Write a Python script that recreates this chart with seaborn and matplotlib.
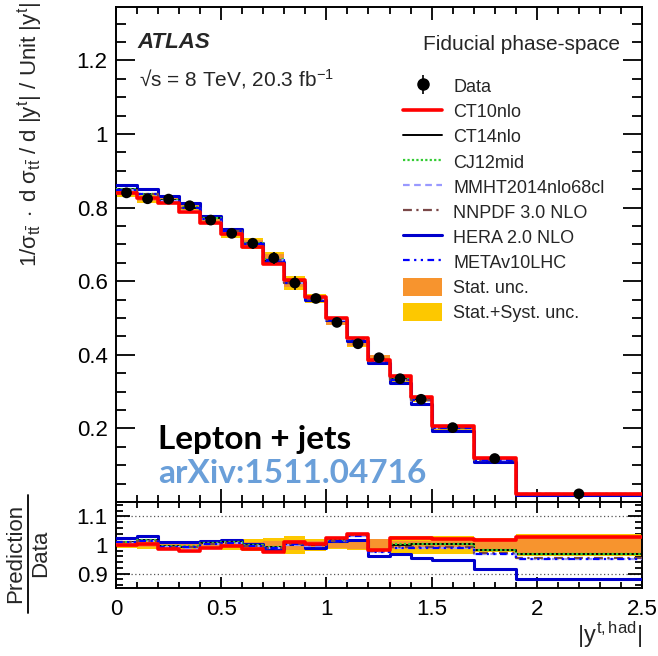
import numpy as np
import pandas as pd
import matplotlib
matplotlib.use("Agg")
import matplotlib.pyplot as plt
import seaborn as sns
from matplotlib.lines import Line2D
from matplotlib.patches import Patch
from matplotlib.ticker import MultipleLocator, FuncFormatter

# ---------------- data ----------------
edges = [0.0, 0.1, 0.2, 0.3, 0.4, 0.5, 0.6, 0.7, 0.8, 0.9, 1.0, 1.1, 1.2, 1.3, 1.4, 1.5, 1.7, 1.9, 2.5]
data = [0.840, 0.824, 0.823, 0.805, 0.766, 0.730, 0.703, 0.663, 0.595, 0.553,
        0.488, 0.430, 0.392, 0.335, 0.279, 0.202, 0.118, 0.022]
stat_unc = [0.006, 0.006, 0.006, 0.006, 0.007, 0.007, 0.012, 0.015, 0.017, 0.013,
            0.012, 0.015, 0.020, 0.013, 0.013, 0.015, 0.020, 0.032]
tot_unc = [0.012, 0.014, 0.012, 0.014, 0.014, 0.016, 0.022, 0.025, 0.030, 0.020,
           0.015, 0.018, 0.022, 0.030, 0.030, 0.030, 0.025, 0.037]

r_ct10 = [1.000, 1.002, 0.987, 0.979, 0.991, 0.996, 0.985, 0.976, 1.012, 1.005,
          1.025, 1.039, 0.981, 1.023, 1.023, 1.022, 1.017, 1.028]
r_ct14 = [1.012, 1.016, 0.996, 0.994, 1.006, 1.009, 0.999, 0.993, 1.004, 1.001,
          1.017, 1.035, 0.982, 1.000, 1.002, 1.004, 0.982, 0.968]
r_cj12 = [1.011, 1.016, 0.997, 0.995, 1.007, 1.010, 1.000, 0.994, 1.005, 1.002,
          1.018, 1.036, 0.983, 1.002, 1.004, 1.005, 0.981, 0.967]
r_mmht = [1.008, 1.013, 0.993, 0.991, 1.003, 1.006, 0.996, 0.990, 1.001, 0.998,
          1.014, 1.032, 0.975, 0.988, 0.988, 0.989, 0.970, 0.952]
r_nnpdf = [1.010, 1.015, 0.994, 0.992, 1.004, 1.007, 0.997, 0.991, 1.002, 0.999,
           1.015, 1.034, 0.978, 0.993, 0.993, 0.993, 0.973, 0.953]
r_hera = [1.024, 1.032, 1.010, 1.010, 1.014, 1.017, 1.002, 0.985, 1.005, 0.991,
          1.014, 1.017, 0.962, 0.967, 0.956, 0.949, 0.915, 0.880]
r_meta = [1.009, 1.014, 0.994, 0.992, 1.004, 1.007, 0.997, 0.991, 1.002, 0.999,
          1.015, 1.033, 0.976, 0.990, 0.990, 0.991, 0.969, 0.950]

x_ticks = [0, 0.5, 1, 1.5, 2, 2.5]
y_ticks = [0.2, 0.4, 0.6, 0.8, 1.0, 1.2]
r_ticks = [0.9, 1.0, 1.1]

# ---------------- style ----------------
sns.set_theme(style="ticks")
plt.rcParams['font.family'] = ['Liberation Sans', 'DejaVu Sans']
plt.rcParams['mathtext.fontset'] = 'custom'
plt.rcParams['mathtext.rm'] = 'Liberation Sans'
plt.rcParams['mathtext.it'] = 'Liberation Sans'
plt.rcParams['mathtext.bf'] = 'Liberation Sans:bold'
plt.rcParams['mathtext.sf'] = 'Liberation Sans'
plt.rcParams['axes.linewidth'] = 1.4

ORANGE = '#f7942e'
YELLOW = '#fdc800'

fig = plt.figure(figsize=(6.58, 6.56), dpi=100)
ax = fig.add_axes([0.1763, 0.2348, 0.7994, 0.7545])
rax = fig.add_axes([0.1763, 0.1037, 0.7994, 0.1311])

edges_a = np.array(edges)
centers = 0.5 * (edges_a[:-1] + edges_a[1:])
data_a = np.array(data)


def ext(v):
    v = list(v)
    return v + [v[-1]]


models = [
    ("HERA 2.0 NLO", r_hera, dict(color='#0000cc', lw=2.2, ls='-')),
    ("CT14nlo", r_ct14, dict(color='black', lw=1.4, ls='-')),
    ("CJ12mid", r_cj12, dict(color='#33cc33', lw=1.6, ls=(0, (1, 1)))),
    ("MMHT2014nlo68cl", r_mmht, dict(color='#9999ff', lw=1.6, ls=(0, (3, 2)))),
    ("NNPDF 3.0 NLO", r_nnpdf, dict(color='#7a4848', lw=1.6, ls=(0, (4, 2, 1, 2)))),
    ("METAv10LHC", r_meta, dict(color='#0000ff', lw=1.6, ls=(0, (3, 2, 1, 2, 1, 2)))),
    ("CT10nlo", r_ct10, dict(color='#ff0000', lw=2.6, ls='-')),
]

# ---------- main panel ----------
stat_a = np.array(stat_unc)
tot_a = np.array(tot_unc)
ax.fill_between(edges, ext(data_a * (1 - tot_a)), ext(data_a * (1 + tot_a)),
                step='post', color=YELLOW, lw=0, zorder=1)
ax.fill_between(edges, ext(data_a * (1 - stat_a)), ext(data_a * (1 + stat_a)),
                step='post', color=ORANGE, lw=0, zorder=2)

for name, r, st in models:
    pred = data_a * np.array(r)
    df = pd.DataFrame({'x': edges, 'y': ext(pred)})
    sns.lineplot(data=df, x='x', y='y', ax=ax, drawstyle='steps-post',
                 color=st['color'], lw=st['lw'], linestyle=st['ls'],
                 estimator=None, sort=False, legend=False, zorder=3)

eb = ax.errorbar(centers, data_a, yerr=data_a * tot_a, fmt='none', ecolor='black',
                 elinewidth=1.2, zorder=5)
sns.scatterplot(x=centers, y=data_a, ax=ax, color='black', s=60, edgecolor='none',
                zorder=6, legend=False)

ax.set_xlim(0, 2.5)
ax.set_ylim(0.0, 1.345)
ax.set_xlabel('')
ax.set_ylabel('')
ax.xaxis.set_major_locator(MultipleLocator(0.5))
ax.xaxis.set_minor_locator(MultipleLocator(0.1))
ax.set_yticks(y_ticks)
ax.yaxis.set_minor_locator(MultipleLocator(0.05))
ax.yaxis.set_major_formatter(FuncFormatter(lambda v, p: f"{v:g}"))
ax.tick_params(axis='both', which='both', direction='in', top=True, right=True,
               labelbottom=False, width=1.3, colors='black')
ax.tick_params(axis='y', which='major', length=14, labelsize=16, pad=6)
ax.tick_params(axis='y', which='minor', length=7)
ax.tick_params(axis='x', which='major', length=9.5)
ax.tick_params(axis='x', which='minor', length=5)
for s in ax.spines.values():
    s.set_color('black')

# legend
data_marker = Line2D([], [], marker='o', ls='none', color='black', ms=8)
leg_handles = [(eb, data_marker)]
leg_labels = ['Data']
order = ["CT10nlo", "CT14nlo", "CJ12mid", "MMHT2014nlo68cl", "NNPDF 3.0 NLO",
         "HERA 2.0 NLO", "METAv10LHC"]
mdict = {m[0]: m[2] for m in models}
for nm in order:
    st = mdict[nm]
    leg_handles.append(Line2D([], [], color=st['color'], lw=st['lw'], ls=st['ls']))
    leg_labels.append(nm)
leg_handles.append(Patch(facecolor=ORANGE, edgecolor='none'))
leg_labels.append('Stat. unc.')
leg_handles.append(Patch(facecolor=YELLOW, edgecolor='none'))
leg_labels.append('Stat.+Syst. unc.')
leg = ax.legend(leg_handles, leg_labels, loc='upper left', bbox_to_anchor=(0.545, 0.859),
                frameon=False, fontsize=13, handlelength=2.2, handleheight=1.2,
                labelspacing=0.32, handletextpad=0.6, borderaxespad=0, borderpad=0)

# ---------- ratio panel ----------
rax.fill_between(edges, ext(1 - tot_a), ext(1 + tot_a), step='post', color=YELLOW, lw=0, zorder=1)
rax.fill_between(edges, ext(1 - stat_a), ext(1 + stat_a), step='post', color=ORANGE, lw=0, zorder=2)
for yl in (0.9, 1.1):
    rax.axhline(yl, color='#555555', ls=(0, (1, 2)), lw=0.9, zorder=0)
for name, r, st in models:
    df = pd.DataFrame({'x': edges, 'y': ext(r)})
    sns.lineplot(data=df, x='x', y='y', ax=rax, drawstyle='steps-post',
                 color=st['color'], lw=st['lw'], linestyle=st['ls'],
                 estimator=None, sort=False, legend=False, zorder=3)

rax.set_xlim(0, 2.5)
rax.set_ylim(0.85, 1.15)
rax.set_xlabel('')
rax.set_ylabel('')
rax.set_xticks(x_ticks)
rax.xaxis.set_minor_locator(MultipleLocator(0.1))
rax.set_yticks(r_ticks)
rax.yaxis.set_minor_locator(MultipleLocator(0.02))
rax.xaxis.set_major_formatter(FuncFormatter(lambda v, p: f"{v:g}"))
rax.yaxis.set_major_formatter(FuncFormatter(lambda v, p: f"{v:g}"))
rax.tick_params(axis='both', which='both', direction='in', top=True, right=True,
                width=1.3, colors='black')
rax.tick_params(axis='y', which='major', length=10, labelsize=16, pad=6)
rax.tick_params(axis='y', which='minor', length=5)
rax.tick_params(axis='x', which='major', length=8, labelsize=16, pad=8)
rax.tick_params(axis='x', which='minor', length=4)
for s in rax.spines.values():
    s.set_color('black')


def fx(px):
    return px / 658.0


def fy(py):
    return 1 - py / 656.0


# ---------- texts ----------
fig.text(fx(137), fy(48), 'ATLAS', fontsize=16, fontweight='bold', fontstyle='italic',
         va='baseline', ha='left')
fig.text(fx(139), fy(86), '√s = 8 TeV, 20.3 fb$^{-1}$', fontsize=15, va='baseline', ha='left')
fig.text(fx(620), fy(50), 'Fiducial phase-space', fontsize=15, va='baseline', ha='right')

fig.text(fx(158), fy(449), 'Lepton + jets', fontsize=24, fontweight='bold',
         family=['Lato', 'DejaVu Sans'], va='baseline', ha='left', color='black')
fig.text(fx(158), fy(483), 'arXiv:1511.04716', fontsize=24, fontweight='bold',
         family=['Lato', 'DejaVu Sans'], va='baseline', ha='left', color='#6a9fd9')

fig.text(fx(30), fy(2),
         r'$1/\sigma_{t\bar{t}}\;\cdot\;\mathrm{d}\ \sigma_{t\bar{t}}\ /\ \mathrm{d}\ |y^{t}|\ /\ \mathrm{Unit}\ |y^{t}|$',
         rotation=90, ha='center', va='top', fontsize=16)

fig.text(fx(16), fy(553), 'Prediction', rotation=90, ha='center', va='center', fontsize=16)
fig.text(fx(41), fy(553), 'Data', rotation=90, ha='center', va='center', fontsize=16)
fig.add_artist(Line2D([fx(28), fx(28)], [fy(613), fy(495)], color='black', lw=1.3,
                      transform=fig.transFigure))

fig.text(fx(642), fy(643), r'$|y^{t,\mathrm{had}}|$', fontsize=17, ha='right', va='baseline')

fig.savefig('out.png', dpi=100)
